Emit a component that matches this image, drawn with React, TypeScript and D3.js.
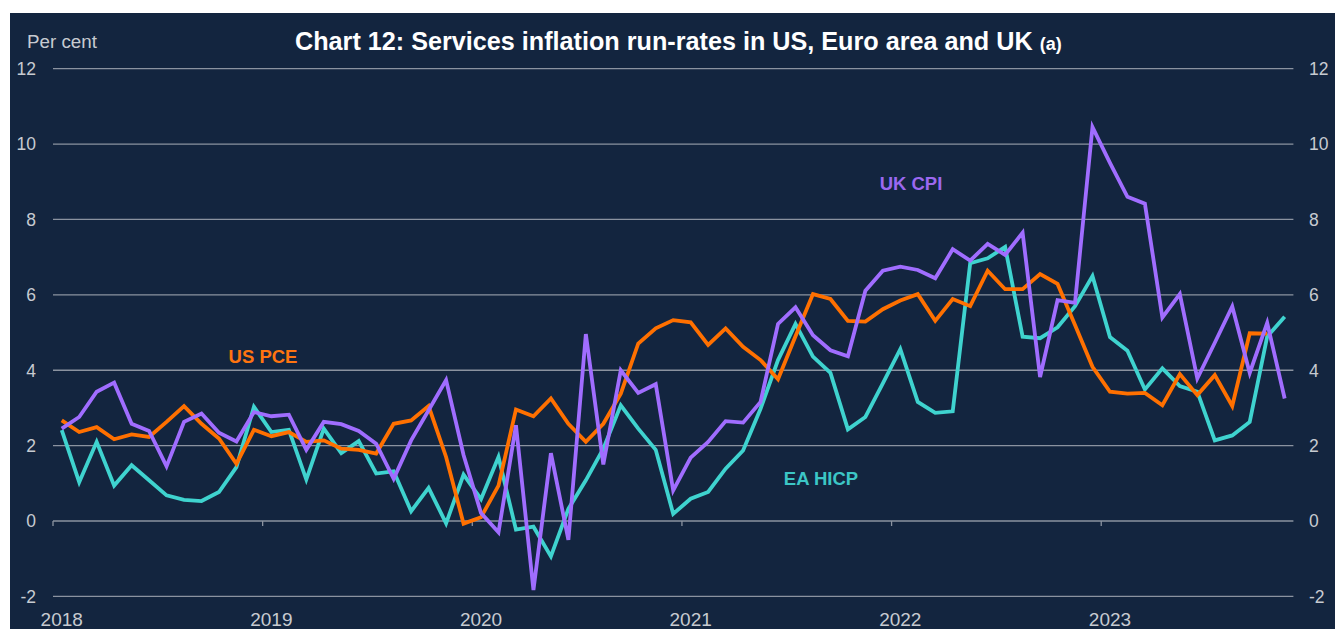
import { useRef, useEffect } from 'react';
import * as d3 from 'd3';

// Monthly run-rates, Jan 2018 onwards (per cent)
const UK_CPI = [
  2.45, 2.76, 3.43, 3.67, 2.58, 2.39, 1.45, 2.63, 2.85, 2.34, 2.11, 2.89,
  2.78, 2.82, 1.89, 2.63, 2.57, 2.39, 2.05, 1.12, 2.14, 2.94, 3.74, 1.75,
  0.21, -0.3, 2.54, -1.83, 1.8, -0.5, 4.96, 1.5, 4.0, 3.4, 3.63, 0.81,
  1.68, 2.1, 2.65, 2.61, 3.16, 5.23, 5.67, 4.93, 4.53, 4.37, 6.11, 6.64,
  6.75, 6.66, 6.44, 7.21, 6.91, 7.35, 7.06, 7.65, 3.82, 5.86, 5.79, 10.45,
  9.5, 8.6, 8.42, 5.4, 6.02, 3.78, 4.73, 5.69, 3.93, 5.26, 3.25,
];

const EA_HICP = [
  2.41, 1.03, 2.1, 0.94, 1.48, 1.08, 0.68, 0.56, 0.53, 0.77, 1.43, 3.03,
  2.36, 2.42, 1.1, 2.45, 1.8, 2.12, 1.26, 1.32, 0.26, 0.88, -0.06, 1.23,
  0.58, 1.7, -0.23, -0.15, -0.94, 0.32, 1.08, 1.92, 3.07, 2.45, 1.89, 0.19,
  0.59, 0.77, 1.39, 1.87, 2.98, 4.27, 5.23, 4.36, 3.93, 2.43, 2.76, 3.65,
  4.56, 3.16, 2.87, 2.91, 6.84, 6.97, 7.27, 4.89, 4.85, 5.14, 5.7, 6.5,
  4.88, 4.52, 3.49, 4.05, 3.58, 3.43, 2.14, 2.27, 2.63, 4.89, 5.42,
];

const US_PCE = [
  2.67, 2.36, 2.49, 2.17, 2.3, 2.23, 2.63, 3.05, 2.58, 2.19, 1.52, 2.42,
  2.25, 2.36, 2.1, 2.14, 1.92, 1.89, 1.79, 2.58, 2.67, 3.05, 1.7, -0.07,
  0.1, 0.94, 2.96, 2.78, 3.25, 2.58, 2.1, 2.58, 3.38, 4.71, 5.11, 5.33,
  5.27, 4.67, 5.11, 4.62, 4.27, 3.76, 4.9, 6.02, 5.89, 5.31, 5.29, 5.62,
  5.85, 6.02, 5.31, 5.89, 5.7, 6.64, 6.15, 6.15, 6.55, 6.29, 5.2, 4.09,
  3.43, 3.38, 3.4, 3.07, 3.9, 3.34, 3.87, 3.05, 4.98, 4.97,
];

const YEARS = ['2018', '2019', '2020', '2021', '2022', '2023'];
const Y_TICKS = [-2, 0, 2, 4, 6, 8, 10, 12];
const N_MONTHS = 71;

const SERIES = [
  { name: 'EA HICP', values: EA_HICP, color: '#3fd3cf', label: [821, 478] },
  { name: 'US PCE', values: US_PCE, color: '#ff7000', label: [263, 356] },
  { name: 'UK CPI', values: UK_CPI, color: '#a06dff', label: [911, 183] },
];

const LABEL_COLORS = { 'EA HICP': '#3cc6c6', 'US PCE': '#ff7410', 'UK CPI': '#9b68f0' };

const BG = '#13253f';
const TEXT = '#c7cbd1';
const GRID = '#8b93a0';
const FONT = '"Liberation Sans", Arial, Helvetica, sans-serif';

export default function App() {
  const svgRef = useRef(null);

  useEffect(() => {
    const svg = d3.select(svgRef.current);
    svg.selectAll('*').remove();

    const x = d3.scaleLinear().domain([0, N_MONTHS]).range([53, 1293.4]);
    const y = d3.scaleLinear().domain([-2, 12]).range([596.4, 68.7]);

    svg.append('rect')
      .attr('x', 10).attr('y', 13)
      .attr('width', 1325).attr('height', 616)
      .attr('fill', BG);

    // gridlines + tick labels both sides
    Y_TICKS.forEach(t => {
      svg.append('line')
        .attr('x1', x(0)).attr('x2', x(N_MONTHS))
        .attr('y1', y(t)).attr('y2', y(t))
        .attr('stroke', GRID).attr('stroke-width', 1.3);
      svg.append('text')
        .attr('x', 36).attr('y', y(t))
        .attr('dy', '0.36em')
        .attr('text-anchor', 'end')
        .attr('fill', TEXT).attr('font-size', 17.5)
        .attr('font-family', FONT)
        .text(t);
      svg.append('text')
        .attr('x', 1309).attr('y', y(t))
        .attr('dy', '0.36em')
        .attr('fill', TEXT).attr('font-size', 17.5)
        .attr('font-family', FONT)
        .text(t);
    });

    // year ticks on the zero line
    YEARS.forEach((yr, i) => {
      const m = i * 12;
      svg.append('line')
        .attr('x1', x(m)).attr('x2', x(m))
        .attr('y1', y(0)).attr('y2', y(0) + 5)
        .attr('stroke', GRID).attr('stroke-width', 1.3);
      svg.append('text')
        .attr('x', x(m + 0.5)).attr('y', 626)
        .attr('text-anchor', 'middle')
        .attr('fill', TEXT).attr('font-size', 19)
        .attr('font-family', FONT)
        .text(yr);
    });

    const line = d3.line()
      .x((d, i) => x(i + 0.5))
      .y(d => y(d));

    SERIES.forEach(s => {
      svg.append('path')
        .attr('d', line(s.values))
        .attr('fill', 'none')
        .attr('stroke', s.color)
        .attr('stroke-width', 3.8)
        .attr('stroke-linejoin', 'miter');
      svg.append('text')
        .attr('x', s.label[0]).attr('y', s.label[1])
        .attr('dy', '0.36em')
        .attr('text-anchor', 'middle')
        .attr('fill', LABEL_COLORS[s.name])
        .attr('font-size', 18.5).attr('font-weight', 700)
        .attr('font-family', FONT)
        .text(s.name);
    });

    svg.append('text')
      .attr('x', 27).attr('y', 48)
      .attr('fill', TEXT).attr('font-size', 18.8)
      .attr('font-family', FONT)
      .text('Per cent');

    const title = svg.append('text')
      .attr('x', 295).attr('y', 49.5)
      .attr('fill', '#ffffff').attr('font-size', 25.2)
      .attr('font-weight', 700)
      .attr('font-family', FONT);
    title.append('tspan').text('Chart 12: Services inflation run-rates in US, Euro area and UK ');
    title.append('tspan').attr('font-size', 18).text('(a)');
  }, []);

  return (
    <div style={{ position: 'absolute', left: 0, top: 0, background: '#fff' }}>
      <svg ref={svgRef} width={1335} height={629} style={{ display: 'block' }} />
    </div>
  );
}
